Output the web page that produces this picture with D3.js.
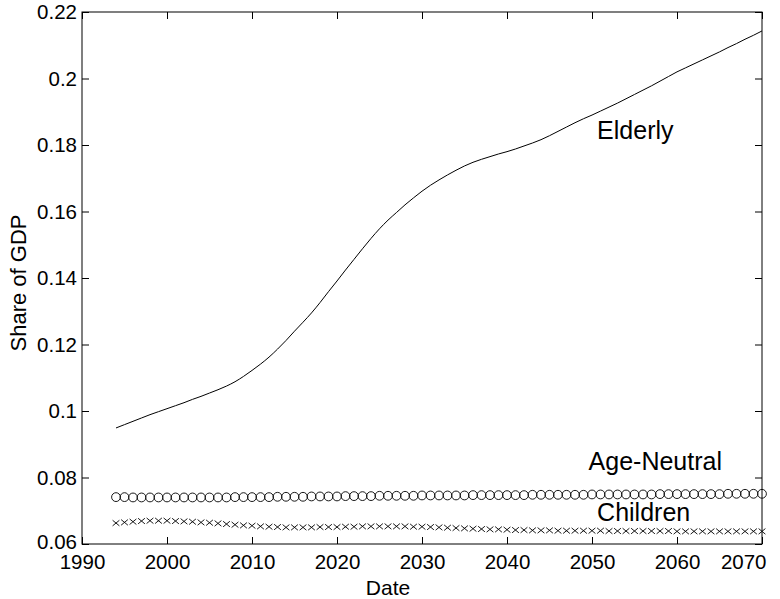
<!DOCTYPE html>
<html>
<head>
<meta charset="utf-8">
<script src="https://cdn.jsdelivr.net/npm/d3@7"></script>
<style>
  html, body { margin: 0; padding: 0; background: #fff; }
  svg text { font-family: "Liberation Sans", Arial, Helvetica, sans-serif; fill: #000; }
</style>
</head>
<body>
<svg id="chart" width="780" height="599"></svg>
<script>
// Years covered by the projections
const years = d3.range(1994, 2071);

// Government spending on the elderly, share of GDP
const elderly = [
  0.0949, 0.0959, 0.0969, 0.0979, 0.0989, 0.0998, 0.1007, 0.1016, 0.1025, 0.1035,
  0.1044, 0.1054, 0.1064, 0.1075, 0.1088, 0.1104, 0.1122, 0.1141, 0.1162, 0.1186,
  0.1212, 0.1240, 0.1267, 0.1295, 0.1326, 0.1359, 0.1391, 0.1424, 0.1456, 0.1488,
  0.1519, 0.1548, 0.1574, 0.1597, 0.1620, 0.1641, 0.1661, 0.1679, 0.1695, 0.1710,
  0.1724, 0.1737, 0.1748, 0.1757, 0.1765, 0.1773, 0.1780, 0.1788, 0.1797, 0.1806,
  0.1816, 0.1828, 0.1841, 0.1854, 0.1867, 0.1879, 0.1890, 0.1902, 0.1914, 0.1926,
  0.1939, 0.1952, 0.1965, 0.1978, 0.1992, 0.2006, 0.2020, 0.2032, 0.2044, 0.2056,
  0.2068, 0.2080, 0.2093, 0.2105, 0.2118, 0.2130, 0.2143
];

// Age-neutral spending, share of GDP
const ageNeutral = [
  0.0741, 0.0741, 0.0740, 0.0740, 0.0740, 0.0740, 0.0740, 0.0740, 0.0740, 0.0740,
  0.0740, 0.0740, 0.0740, 0.0740, 0.0741, 0.0741, 0.0741, 0.0741, 0.0741, 0.0742,
  0.0742, 0.0742, 0.0742, 0.0743, 0.0743, 0.0743, 0.0743, 0.0744, 0.0744, 0.0744,
  0.0744, 0.0745, 0.0745, 0.0745, 0.0745, 0.0745, 0.0746, 0.0746, 0.0746, 0.0746,
  0.0746, 0.0746, 0.0747, 0.0747, 0.0747, 0.0747, 0.0747, 0.0747, 0.0747, 0.0748,
  0.0748, 0.0748, 0.0748, 0.0748, 0.0748, 0.0748, 0.0749, 0.0749, 0.0749, 0.0749,
  0.0749, 0.0749, 0.0749, 0.0749, 0.0750, 0.0750, 0.0750, 0.0750, 0.0750, 0.0750,
  0.0750, 0.0750, 0.0751, 0.0751, 0.0751, 0.0751, 0.0751
];

// Spending on children, share of GDP
const children = [
  0.0663, 0.0665, 0.0667, 0.0669, 0.0670, 0.0670, 0.0670, 0.0669, 0.0668, 0.0667,
  0.0665, 0.0664, 0.0662, 0.0660, 0.0658, 0.0656, 0.0655, 0.0653, 0.0652, 0.0651,
  0.0650, 0.0650, 0.0650, 0.0650, 0.0651, 0.0651, 0.0651, 0.0652, 0.0652, 0.0653,
  0.0653, 0.0653, 0.0653, 0.0653, 0.0653, 0.0652, 0.0652, 0.0651, 0.0650, 0.0649,
  0.0648, 0.0647, 0.0646, 0.0645, 0.0644, 0.0644, 0.0643, 0.0642, 0.0642, 0.0641,
  0.0641, 0.0641, 0.0640, 0.0640, 0.0640, 0.0640, 0.0640, 0.0640, 0.0639, 0.0639,
  0.0639, 0.0639, 0.0639, 0.0639, 0.0639, 0.0639, 0.0638, 0.0638, 0.0638, 0.0638,
  0.0638, 0.0638, 0.0638, 0.0638, 0.0638, 0.0638, 0.0638
];

const xTicks = [1990, 2000, 2010, 2020, 2030, 2040, 2050, 2060, 2070];
const yTicks = [0.06, 0.08, 0.1, 0.12, 0.14, 0.16, 0.18, 0.2, 0.22];
const seriesLabels = [
  { text: "Elderly", year: 2050.6, value: 0.1818 },
  { text: "Age-Neutral", year: 2049.6, value: 0.0822 },
  { text: "Children", year: 2050.6, value: 0.0669 }
];

const svg = d3.select("#chart");
const margin = { left: 82, right: 18, top: 12, bottom: 55 };
const W = 780, H = 599;
const x = d3.scaleLinear().domain([1990, 2070]).range([margin.left, W - margin.right]);
const y = d3.scaleLinear().domain([0.06, 0.22]).range([H - margin.bottom, margin.top]);

const tickLen = 7;
const tickFont = 20.5;
const fmtY = d => String(+d.toFixed(2));

// Frame
svg.append("rect")
  .attr("x", x(1990)).attr("y", y(0.22))
  .attr("width", x(2070) - x(1990)).attr("height", y(0.06) - y(0.22))
  .attr("fill", "none").attr("stroke", "#000").attr("stroke-width", 1);

// Axes with inward ticks
const xAxis = svg.append("g").attr("transform", `translate(0,${y(0.06)})`)
  .call(d3.axisBottom(x).tickValues(xTicks).tickFormat(d3.format("d"))
    .tickSizeInner(-tickLen).tickSizeOuter(0).tickPadding(10));
const yAxis = svg.append("g").attr("transform", `translate(${x(1990)},0)`)
  .call(d3.axisLeft(y).tickValues(yTicks).tickFormat(fmtY)
    .tickSizeInner(-tickLen).tickSizeOuter(0).tickPadding(5));
const xTop = svg.append("g").attr("transform", `translate(0,${y(0.22)})`)
  .call(d3.axisTop(x).tickValues(xTicks).tickFormat("").tickSizeInner(-tickLen).tickSizeOuter(0));
const yRight = svg.append("g").attr("transform", `translate(${x(2070)},0)`)
  .call(d3.axisRight(y).tickValues(yTicks).tickFormat("").tickSizeInner(-tickLen).tickSizeOuter(0));

[xAxis, yAxis, xTop, yRight].forEach(g => {
  g.select(".domain").remove();
  g.selectAll("line").attr("stroke", "#000");
  g.selectAll("text").attr("font-size", tickFont).attr("fill", "#000")
    .style("font-family", '"Liberation Sans", Arial, sans-serif');
});
// Keep the last year label inside the page
xAxis.selectAll(".tick").filter(d => d === 2070).select("text")
  .attr("text-anchor", "end").attr("x", 4);
// Lift the lowest share label slightly so it clears the first year label
yAxis.selectAll(".tick").filter(d => d === 0.06).select("text")
  .attr("y", -2);

// Elderly line
svg.append("path")
  .datum(years.map((yr, i) => [yr, elderly[i]]))
  .attr("fill", "none").attr("stroke", "#000").attr("stroke-width", 1)
  .attr("d", d3.line().curve(d3.curveMonotoneX).x(d => x(d[0])).y(d => y(d[1])));

// Age-neutral circle markers
svg.append("g").selectAll("circle")
  .data(years.map((yr, i) => [yr, ageNeutral[i]]))
  .join("circle")
  .attr("cx", d => x(d[0])).attr("cy", d => y(d[1])).attr("r", 4.4)
  .attr("fill", "none").attr("stroke", "#000").attr("stroke-width", 0.9);

// Children cross markers
const cw = 3.4, ch = 2.8;
svg.append("g").selectAll("path")
  .data(years.map((yr, i) => [yr, children[i]]))
  .join("path")
  .attr("d", d => {
    const cx = x(d[0]), cy = y(d[1]);
    return `M${cx - cw},${cy - ch}L${cx + cw},${cy + ch}M${cx - cw},${cy + ch}L${cx + cw},${cy - ch}`;
  })
  .attr("stroke", "#000").attr("stroke-width", 0.9).attr("fill", "none");

// Series labels
svg.append("g").selectAll("text")
  .data(seriesLabels)
  .join("text")
  .attr("x", d => x(d.year)).attr("y", d => y(d.value))
  .attr("font-size", 25)
  .text(d => d.text);

// Axis titles
svg.append("text")
  .attr("x", 388).attr("y", 595)
  .attr("text-anchor", "middle").attr("font-size", 21)
  .text("Date");
svg.append("text")
  .attr("transform", `translate(26,283) rotate(-90)`)
  .attr("text-anchor", "middle").attr("font-size", 22)
  .text("Share of GDP");
</script>
</body>
</html>
